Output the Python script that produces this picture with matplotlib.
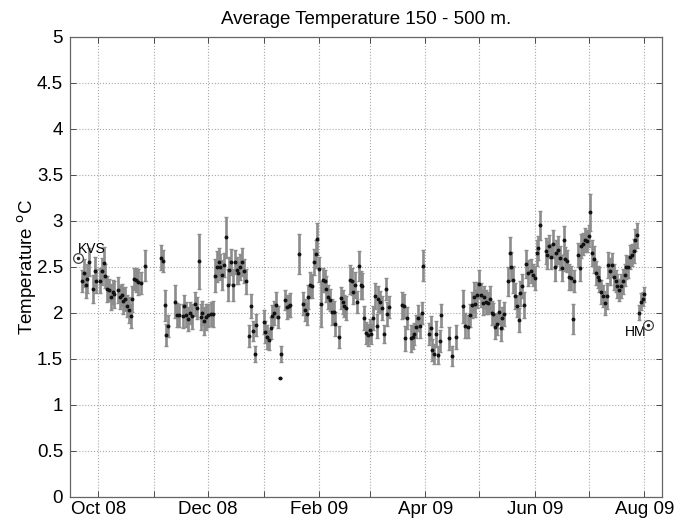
import datetime as dt
import matplotlib
matplotlib.use("Agg")
import matplotlib.pyplot as plt
import matplotlib.dates as mdates

plt.rcParams['font.family'] = ['Liberation Sans', 'DejaVu Sans']

# day offsets from 1 Oct 2008
days = [-9, -8, -7, -6, -5, -3, -2, -1, 1, 2, 3, 4, 5, 6, 7, 8, 9, 11, 12, 13, 14, 15, 16, 17, 18, 19, 20, 21, 22, 24, 26,
        35, 36, 37, 38, 39, 43, 44, 45, 47, 48, 49, 50, 51, 52, 54, 55, 56, 57, 58, 59, 60, 61, 63, 64, 65, 66,
        67, 68, 69, 70, 71, 72, 73, 74, 75, 76, 77, 78, 79, 80, 81, 82, 84, 85, 86, 87, 88,
        92, 93, 94, 95, 96, 97, 98, 99, 100, 101, 102, 104, 105, 106, 107, 112,
        114, 115, 116, 117, 118, 119, 120, 121, 122, 123, 124, 125, 126, 127, 128, 129, 130, 131, 132, 134,
        135, 136, 137, 138, 140, 141, 142, 143, 144, 145, 146, 147, 148, 149, 150,
        151, 152, 153, 154, 155, 156, 157, 158, 159, 160, 161, 162,
        169, 170, 171, 172, 174, 175, 176, 177, 178, 179, 180, 181,
        184, 185, 186, 187, 188, 189, 190, 191, 195, 197, 199,
        203, 204, 206, 207, 208, 209, 210, 211, 212, 213, 214, 215, 216, 217, 218, 219, 220, 221, 222, 223, 224, 225, 226, 228, 229, 230,
        231, 232, 233, 234, 235, 236, 237, 238, 239, 241, 242, 243, 244, 245, 246,
        249, 250, 251, 252, 253, 254, 255, 256, 257, 258, 259, 260, 261, 262, 263, 264, 265, 267, 268, 269, 270, 271, 272, 273, 274,
        275, 276, 277, 278, 279, 280, 281, 282, 283, 284, 285, 286, 287, 288, 289, 290, 291, 292, 293, 294, 295, 296, 297, 298, 299, 300,
        301, 302, 303, 304]

temps = [2.34, 2.43, 2.30, 2.37, 2.55, 2.26, 2.45, 2.34, 2.35, 2.45, 2.54, 2.40, 2.26, 2.25, 2.17, 2.23, 2.20, 2.25, 2.17, 2.19, 2.13, 2.15, 2.07, 2.03, 1.96, 2.15, 2.37, 2.36, 2.33, 2.32, 2.51,
         2.60, 2.56, 2.08, 1.76, 1.86, 2.12, 1.98, 1.97, 1.96, 2.07, 1.98, 1.93, 2.00, 1.96, 2.09, 2.05, 2.56, 1.95, 2.00, 1.91, 1.95, 1.97, 1.99, 1.99, 2.40, 2.50,
         2.55, 2.50, 2.41, 2.52, 2.82, 2.30, 2.46, 2.55, 2.30, 2.55, 2.46, 2.43, 2.50, 2.55, 2.45, 2.34, 1.75, 2.07, 1.80, 1.55, 1.87,
         1.90, 1.79, 1.74, 1.70, 1.83, 1.96, 2.00, 2.08, 1.95, 1.29, 1.55, 2.14, 2.06, 2.07, 2.08, 2.64,
         2.10, 2.03, 1.99, 2.17, 2.30, 2.29, 2.55, 2.64, 2.80, 2.47, 2.10, 2.36, 2.34, 2.26, 2.17, 2.14, 2.01, 2.01, 1.88, 1.74,
         2.16, 2.12, 2.07, 2.05, 2.36, 2.34, 2.23, 2.30, 2.12, 2.51, 2.30, 2.29, 1.94, 1.78, 1.76,
         1.81, 1.77, 1.94, 2.18, 1.86, 2.15, 2.12, 2.05, 1.77, 2.26, 1.99, 2.06,
         2.08, 2.07, 1.72, 1.94, 1.72, 1.74, 1.77, 1.85, 1.94, 1.86, 2.00, 2.51,
         1.77, 1.83, 1.59, 1.55, 1.77, 1.54, 1.69, 1.97, 1.72, 1.53, 1.74,
         2.07, 1.86, 1.85, 1.97, 2.08, 2.17, 2.10, 2.19, 2.31, 2.19, 2.11, 2.17, 2.12, 2.11, 2.15, 2.00, 1.99, 1.85, 1.88, 2.01, 1.83, 1.94, 1.99, 2.34, 2.65, 2.50,
         2.36, 2.18, 2.07, 1.92, 2.21, 2.29, 2.08, 2.53, 2.43, 2.45, 2.41, 2.38, 2.65, 2.70, 2.95,
         2.67, 2.63, 2.72, 2.61, 2.75, 2.50, 2.65, 2.68, 2.59, 2.49, 2.79, 2.58, 2.56, 2.39, 2.38, 1.93, 2.34, 2.63, 2.49, 2.73, 2.75, 2.79, 2.78, 2.83, 3.09,
         2.65, 2.58, 2.43, 2.39, 2.36, 2.23, 2.18, 2.11, 2.18, 2.52, 2.45, 2.52, 2.39, 2.34, 2.29, 2.25, 2.29, 2.34, 2.41, 2.50, 2.50, 2.61, 2.63, 2.67, 2.79, 2.84,
         2.00, 2.12, 2.15, 2.20]

errs = [0.12, 0.15, 0.14, 0.16, 0.15, 0.15, 0.16, 0.13, 0.14, 0.15, 0.17, 0.13, 0.14, 0.12, 0.14, 0.13, 0.15, 0.14, 0.13, 0.12, 0.14, 0.13, 0.12, 0.14, 0.13, 0.14, 0.12, 0.13, 0.14, 0.12, 0.17,
        0.14, 0.12, 0.17, 0.12, 0.12, 0.18, 0.13, 0.12, 0.13, 0.12, 0.14, 0.13, 0.12, 0.14, 0.13, 0.12, 0.30, 0.14, 0.13, 0.15, 0.14, 0.12, 0.13, 0.14, 0.18, 0.17,
        0.15, 0.14, 0.16, 0.13, 0.22, 0.17, 0.15, 0.14, 0.17, 0.13, 0.15, 0.12, 0.14, 0.15, 0.13, 0.14, 0.12, 0.13, 0.11, 0.09, 0.12,
        0.13, 0.12, 0.13, 0.11, 0.12, 0.12, 0.13, 0.14, 0.12, 0.0, 0.09, 0.11, 0.13, 0.12, 0.13, 0.22,
        0.13, 0.12, 0.12, 0.13, 0.14, 0.13, 0.14, 0.15, 0.17, 0.14, 0.25, 0.13, 0.12, 0.14, 0.13, 0.12, 0.14, 0.12, 0.13, 0.12,
        0.12, 0.13, 0.12, 0.13, 0.16, 0.15, 0.13, 0.14, 0.12, 0.16, 0.15, 0.14, 0.13, 0.12, 0.12,
        0.12, 0.11, 0.13, 0.14, 0.13, 0.14, 0.12, 0.13, 0.10, 0.12, 0.13, 0.12,
        0.15, 0.13, 0.14, 0.12, 0.15, 0.13, 0.12, 0.13, 0.14, 0.13, 0.12, 0.17,
        0.12, 0.13, 0.12, 0.11, 0.14, 0.10, 0.12, 0.12, 0.13, 0.11, 0.13,
        0.18, 0.14, 0.13, 0.12, 0.14, 0.16, 0.15, 0.14, 0.15, 0.13, 0.14, 0.12, 0.13, 0.12, 0.14, 0.13, 0.12, 0.14, 0.12, 0.13, 0.14, 0.12, 0.13, 0.16, 0.17, 0.16,
        0.15, 0.14, 0.12, 0.13, 0.14, 0.13, 0.14, 0.15, 0.14, 0.13, 0.12, 0.13, 0.14, 0.13, 0.16,
        0.14, 0.15, 0.13, 0.14, 0.15, 0.16, 0.14, 0.15, 0.13, 0.14, 0.15, 0.13, 0.12, 0.14, 0.13, 0.16, 0.12, 0.13, 0.14, 0.13, 0.12, 0.13, 0.12, 0.12, 0.20,
        0.14, 0.15, 0.13, 0.12, 0.14, 0.13, 0.12, 0.13, 0.14, 0.14, 0.15, 0.13, 0.14, 0.12, 0.13, 0.12, 0.13, 0.14, 0.12, 0.13, 0.12, 0.13, 0.12, 0.13, 0.12, 0.14,
        0.08, 0.09, 0.08, 0.08]

n = min(len(days), len(temps), len(errs))
days, temps, errs = days[:n], temps[:n], errs[:n]

# station markers
kvs_day, kvs_temp = -11.5, 2.59
hm_day, hm_temp = 306, 1.87

month_ticks = [(2008, 10), (2008, 11), (2008, 12), (2009, 1), (2009, 2), (2009, 3),
               (2009, 4), (2009, 5), (2009, 6), (2009, 7), (2009, 8)]
month_labels = ['Oct 08', '', 'Dec 08', '', 'Feb 09', '', 'Apr 09', '', 'Jun 09', '', 'Aug 09']
y_ticks = [0, 0.5, 1, 1.5, 2, 2.5, 3, 3.5, 4, 4.5, 5]
y_labels = ['0', '0.5', '1', '1.5', '2', '2.5', '3', '3.5', '4', '4.5', '5']

base = dt.datetime(2008, 10, 1)
dates = [base + dt.timedelta(days=d) for d in days]

fig = plt.figure(figsize=(6.83, 5.23), dpi=100)
ax = fig.add_axes([0.1025, 0.0503, 0.8668, 0.8795])

ax.errorbar(dates, temps, yerr=errs, fmt='o', ms=1.8, mfc='#111111', mec='#111111',
            ecolor='#8c8c8c', elinewidth=1.9, capsize=1.2, capthick=1.0, zorder=3)

kd = base + dt.timedelta(days=kvs_day)
hd = base + dt.timedelta(days=hm_day)
for d0, t0 in [(kd, kvs_temp), (hd, hm_temp)]:
    ax.plot([d0], [t0], 'o', ms=7, mfc='white', mec='#444444', mew=0.9, zorder=4)
    ax.plot([d0], [t0], 'o', ms=1.5, color='#222222', zorder=5)
ax.text(base + dt.timedelta(days=-11.3), 2.62, 'KVS', fontsize=10, ha='left', va='bottom')
ax.text(base + dt.timedelta(days=305.2), 1.79, 'HM', fontsize=10, ha='right', va='center')

ax.set_xlim(dt.datetime(2008, 9, 15, 7), dt.datetime(2009, 8, 10, 20))
ax.set_ylim(0, 5)
ax.set_xticks([mdates.date2num(dt.datetime(y, m, 1)) for y, m in month_ticks])
ax.set_xticklabels(month_labels)
ax.set_yticks(y_ticks)
ax.set_yticklabels(y_labels)
ax.tick_params(direction='in', top=True, right=True, length=4, width=0.6,
               labelsize=13.5, colors='#333333', labelcolor='black', pad=5)
ax.tick_params(axis='x', pad=3)
ax.grid(True, linestyle=':', color='#a8a8a8', linewidth=0.8)
for s in ax.spines.values():
    s.set_color('#666666')
    s.set_linewidth(0.9)

ax.set_title('Average Temperature 150 - 500 m.', fontsize=13.5, pad=9)
ax.set_ylabel('Temperature $^{\\mathrm{o}}$C', fontsize=13.5)
ax.yaxis.set_label_coords(-0.052, 0.5)

fig.savefig('out.png', dpi=100)
